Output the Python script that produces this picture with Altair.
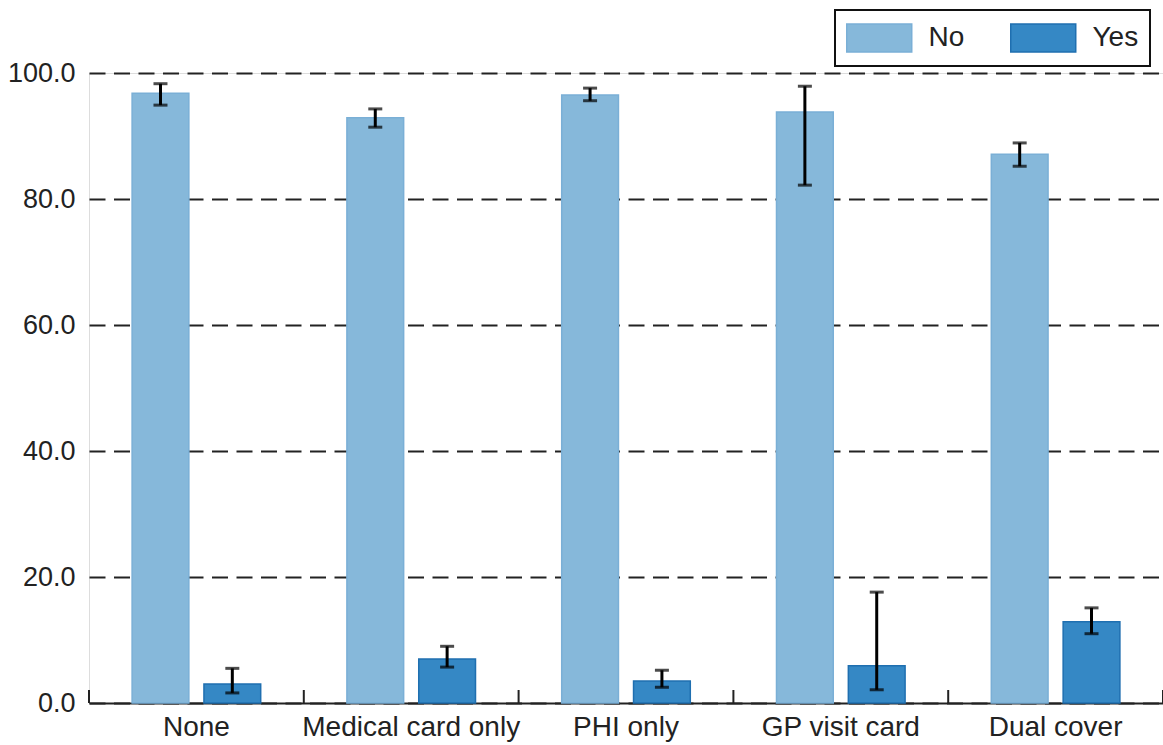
import altair as alt
import pandas as pd

categories = ["None", "Medical card only", "PHI only", "GP visit card", "Dual cover"]
groups = ["No", "Yes"]
no_values = [96.8, 92.9, 96.5, 93.8, 87.1]
no_lower = [94.9, 91.4, 95.6, 82.2, 85.2]
no_upper = [98.3, 94.3, 97.6, 97.9, 88.9]
yes_values = [3.0, 7.0, 3.5, 5.9, 12.9]
yes_lower = [1.6, 5.7, 2.5, 2.1, 11.0]
yes_upper = [5.5, 9.0, 5.2, 17.6, 15.1]

rows = []
for i, c in enumerate(categories):
    rows.append({"cat": c, "grp": "No", "val": no_values[i], "lo": no_lower[i], "hi": no_upper[i]})
    rows.append({"cat": c, "grp": "Yes", "val": yes_values[i], "lo": yes_lower[i], "hi": yes_upper[i]})
df = pd.DataFrame(rows)

FONT = "Liberation Sans"
W, H = 1074, 630
FS = 27

xscale = alt.Scale(domain=categories, paddingInner=0, paddingOuter=0)
xoff_scale = alt.Scale(domain=groups, paddingInner=0.21, paddingOuter=0.6)
yscale = alt.Scale(domain=[0, 100], nice=False)

x_enc = alt.X("cat:N", scale=xscale, sort=categories,
              axis=alt.Axis(title=None, labelAngle=0, labelFontSize=28, labelFont=FONT,
                            labelColor="#222222", ticks=False, domainColor="#222222",
                            domainWidth=2, labelPadding=10, grid=False, labelLimit=400))

bars = alt.Chart(df).mark_bar(strokeWidth=1.5).encode(
    x=x_enc,
    xOffset=alt.XOffset("grp:N", scale=xoff_scale),
    y=alt.Y("val:Q", scale=yscale,
            axis=alt.Axis(title=None, values=[0, 20, 40, 60, 80, 100], format=".1f",
                          labelFontSize=FS, labelFont=FONT, labelColor="#222222",
                          ticks=False, domain=False, grid=True, gridColor="#222222",
                          gridDash=[16, 8.5], gridWidth=2, labelPadding=14)),
    fill=alt.Fill("grp:N", scale=alt.Scale(domain=groups, range=["#86b8da", "#3588c5"]),
                  legend=alt.Legend(title=None, orient="none", legendX=746, legendY=-63,
                                    direction="horizontal", labelFontSize=28, labelFont=FONT,
                                    labelColor="#222222",
                                    symbolType="M-1,-0.86L3,-0.86L3,0.86L-1,0.86Z",
                                    symbolSize=1056, symbolStrokeWidth=1.5,
                                    strokeColor="#111111", padding=11,
                                    columnPadding=42, labelOffset=48.5)),
    stroke=alt.Stroke("grp:N", scale=alt.Scale(domain=groups, range=["#7aafd6", "#1f6fb0"]),
                      legend=None),
)

err = alt.Chart(df).mark_rule(color="black", strokeWidth=3).encode(
    x=alt.X("cat:N", scale=xscale, sort=categories),
    xOffset=alt.XOffset("grp:N", scale=xoff_scale),
    y=alt.Y("lo:Q", scale=yscale),
    y2="hi:Q",
)
cap_lo = alt.Chart(df).mark_tick(color="black", thickness=3, size=14).encode(
    x=alt.X("cat:N", scale=xscale, sort=categories),
    xOffset=alt.XOffset("grp:N", scale=xoff_scale),
    y=alt.Y("lo:Q", scale=yscale),
)
cap_hi = alt.Chart(df).mark_tick(color="black", thickness=3, size=14).encode(
    x=alt.X("cat:N", scale=xscale, sort=categories),
    xOffset=alt.XOffset("grp:N", scale=xoff_scale),
    y=alt.Y("hi:Q", scale=yscale),
)

ticks_df = pd.DataFrame({"cat": categories})
tick_start = alt.Chart(ticks_df).mark_rule(color="#222222", strokeWidth=2).encode(
    x=alt.X("cat:N", scale=xscale, sort=categories, bandPosition=0),
    y=alt.value(H - 13), y2=alt.value(H),
)
tick_end = alt.Chart(ticks_df.tail(1)).mark_rule(color="#222222", strokeWidth=2).encode(
    x=alt.X("cat:N", scale=xscale, sort=categories, bandPosition=1),
    y=alt.value(H - 13), y2=alt.value(H),
)

chart = alt.layer(bars, err, cap_lo, cap_hi, tick_start, tick_end).properties(
    width=W, height=H,
    autosize=alt.AutoSizeParams(type="none"),
    padding={"left": 89, "top": 73, "right": 0, "bottom": 42},
).configure_view(stroke=None).configure(background="white").configure_legend(strokeWidth=2)

chart.save("out.html", embed_options={"renderer": "svg", "actions": False})
